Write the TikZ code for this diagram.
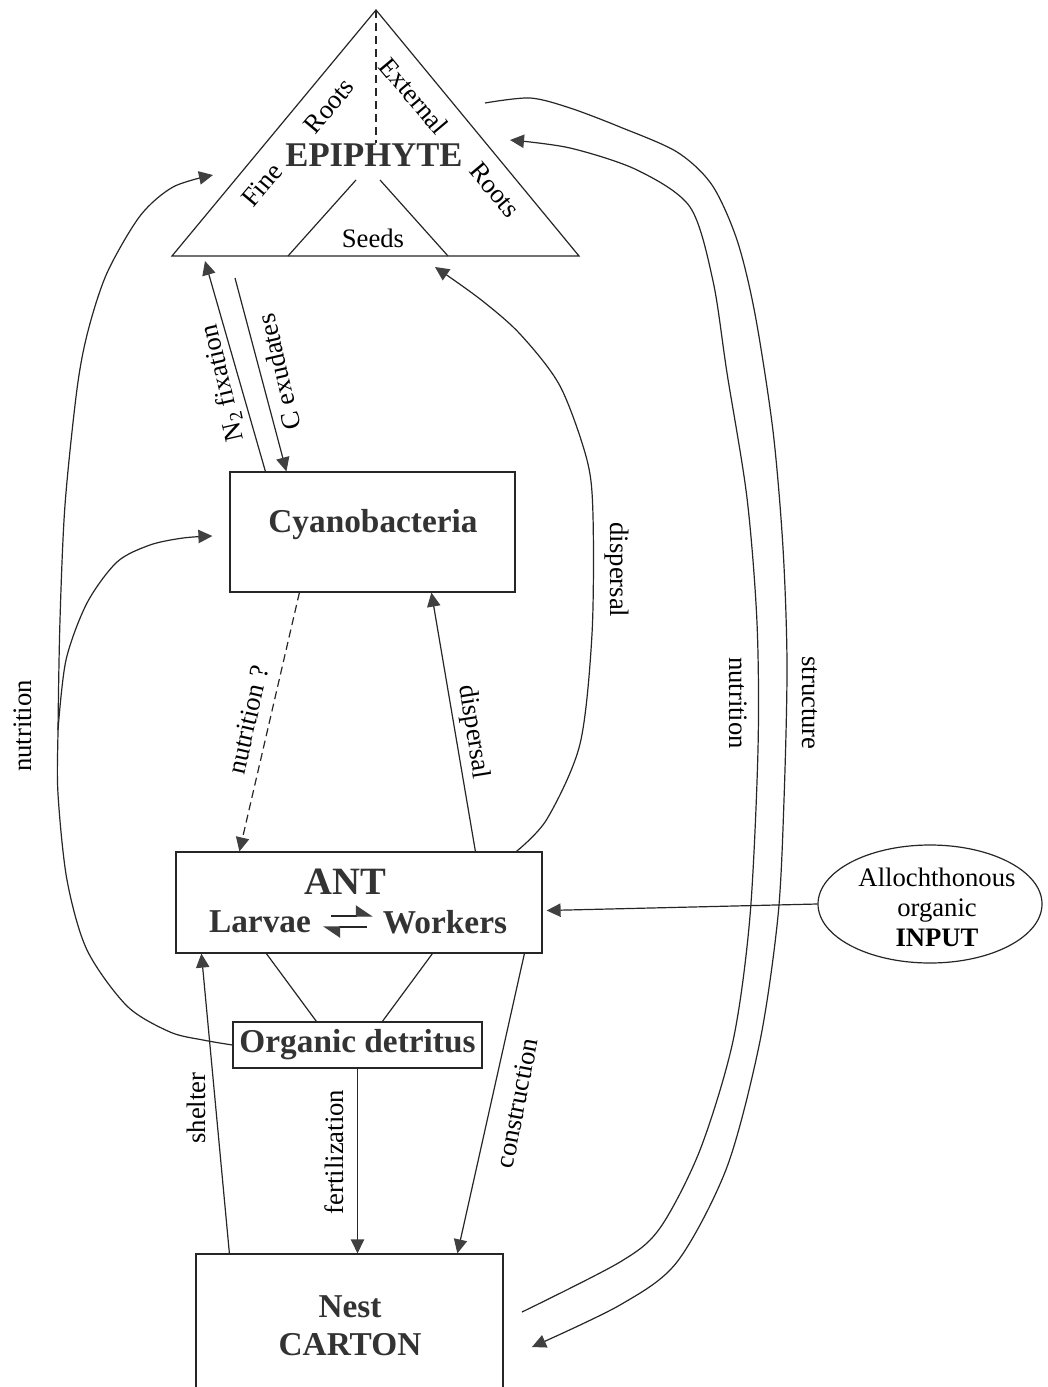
\documentclass[tikz,border=0pt]{standalone}
\usepackage{fontspec}
\setmainfont{Liberation Serif}
\usetikzlibrary{arrows.meta,calc,shapes.geometric}
\begin{document}
\begin{tikzpicture}[x=0.75pt,y=-0.75pt,
  conn/.style={line width=0.9pt,draw=black!85},
  arr/.style={conn,-{Triangle[length=10.5pt,width=10pt,color=black!75]}},
  harp/.style={conn,-{Triangle[harpoon,length=12pt,width=16pt,color=black!75]}},
  box/.style={draw=black!85,line width=0.9pt,inner sep=0pt,rectangle},
  lbl/.style={font=\fontsize{20}{24}\selectfont,inner sep=0pt},
  bld/.style={font=\fontsize{25}{28.5}\selectfont\bfseries,text=black!80,inner sep=0pt,align=center}
]
\useasboundingbox (0,0) rectangle (1048,1387);
\fill[white] (0,0) rectangle (1048,1387);
\clip (0,0) rectangle (1048,1387);

% EPIPHYTE triangle
\coordinate (apex) at (376,10);
\coordinate (tbl) at (172,256);
\coordinate (tbr) at (579,256);
\coordinate (dashend) at (376,143);
\coordinate (sdl1) at (356,180);
\coordinate (sdl2) at (288,256);
\coordinate (sdr1) at (380,180);
\coordinate (sdr2) at (448,256);
\draw[conn] (apex) -- (tbl) -- (tbr) -- cycle;
\draw[conn,dash pattern=on 6pt off 3.75pt] (apex) -- (dashend);
\draw[conn] (sdl1) -- (sdl2);
\draw[conn] (sdr1) -- (sdr2);
\node[bld,font=\fontsize{26}{30}\selectfont\bfseries] (epi) at (374,155) {EPIPHYTE};
\node[lbl,rotate=50] (fine) at (262,185) {Fine};
\node[lbl,rotate=50] (roots1) at (329,106) {Roots};
\node[lbl,rotate=-50] (ext) at (414,96) {External};
\node[lbl,rotate=-50] (roots2) at (495,190) {Roots};
\node[lbl] (seeds) at (373,238) {Seeds};

% boxes
\node[box,minimum width=213.75pt,minimum height=90pt] (cyan) at (372.5,532) {};
\node[bld] (cyantxt) at (373,525) {Cyanobacteria};

\node[box,minimum width=274.5pt,minimum height=75.75pt] (ant) at (359,902.5) {};
\node[bld,font=\fontsize{29}{32}\selectfont\bfseries] (anttxt) at (345,882) {ANT};
\node[bld] (larvae) at (260,922) {Larvae};
\node[bld] (workers) at (445,922) {Workers};
\draw[harp] ($(larvae.east)+(20,-6)$) -- ($(workers.west)+(-10,-6)$);
\draw[harp] ($(workers.west)+(-16,5)$) -- ($(larvae.east)+(12,5)$);

\node[box,bld,minimum width=186.75pt,minimum height=34.5pt] (det) at (357.5,1045) {Organic detritus};

\node[box,minimum width=230.25pt,minimum height=120pt] (nest) at (349.5,1334) {};
\node[bld] (nesttxt) at (350,1326) {Nest\\CARTON};

\node[draw=black!85,line width=0.9pt,ellipse,minimum width=168pt,minimum height=88.5pt,inner sep=0pt] (input) at (930,904) {};
\node[lbl,align=center,font=\fontsize{20}{22.5}\selectfont] (inputtxt) at (937,907) {Allochthonous\\organic\\\textbf{INPUT}};

% cyanobacteria <-> epiphyte
\coordinate (n2tip) at (205,261);
\coordinate (cexs) at (235,278);
\draw[arr] ($(cyan.north west)+(36,0)$) -- (n2tip);
\draw[arr] (cexs) -- ($(cyan.north west)+(57,0)$);
\node[lbl,rotate=103] (n2lbl) at (223,383) {N\textsubscript{2} fixation};
\node[lbl,rotate=103] (cexlbl) at (279,372) {C exudates};

% cyanobacteria <-> ant
\draw[arr,dash pattern=on 6pt off 3.5pt] ($(cyan.south west)+(70,0)$) -- ($(ant.north west)+(64,0)$);
\node[lbl,rotate=77] (nq) at (248,720) {nutrition ?};
\draw[arr] ($(ant.north west)+(300,0)$) -- ($(cyan.south west)+(202,0)$);
\node[lbl,rotate=-81] (disp1) at (473,732) {dispersal};

% ant -> epiphyte (dispersal)
\coordinate (antD2) at ($(ant.north west)+(341,0)$);
\coordinate (dispTip) at (435,267);
\draw[arr] plot[smooth] coordinates {(antD2) (547,819) (580,744) (592,634) (593,516) (587,460) (560,386) (520,334) (480,299) (dispTip)};
\node[lbl,rotate=-90] (disp2) at (617,570) {dispersal};

% ant - detritus
\draw[conn] ($(ant.south west)+(91,0)$) -- ($(det.north west)+(84,0)$);
\draw[conn] ($(ant.south west)+(257,0)$) -- ($(det.north west)+(150,0)$);

% nest links
\draw[arr] ($(nest.north west)+(34,0)$) -- ($(ant.south west)+(26,0)$);
\node[lbl,rotate=90] (shel) at (196,1108) {shelter};
\draw[arr] (det.south) -- (det.south |- nest.north);
\node[lbl,rotate=90] (fert) at (334,1152) {fertilization};
\draw[arr] ($(ant.south west)+(349,0)$) -- ($(nest.north west)+(262,0)$);
\node[lbl,rotate=79] (cons) at (517,1103) {construction};

% input
\draw[arr] (input.west) -- ($(ant.east)+(4,8)$);

% left nutrition curves
\coordinate (junc) at (58,730);
\coordinate (epiL) at (213,175);
\coordinate (cyL) at ($(cyan.west)+(-17,4)$);
\draw[arr] plot[smooth] coordinates {(det.west) (203,1040) (170,1032) (127,1006) (87,950) (67,880) (58,794) (junc) (60,620) (65,505) (77,389) (88,331) (107,273) (140,216) (173,187) (epiL)};
\draw[arr] plot[smooth] coordinates {(junc) (66,660) (87,603) (117,562) (150,545) (183,538) (cyL)};
\node[lbl,rotate=90] (nutL) at (23,726) {nutrition};

% right big curves
\coordinate (strS) at (485,103);
\coordinate (strE) at (532,1347);
\draw[arr] plot[smooth] coordinates {(strS) (530,98) (570,108) (620,127) (677,152) (712,185) (737,240) (755,314) (773,431) (783,548) (787,665) (784,800) (778,916) (760,1041) (727,1167) (677,1262) (620,1305) (strE)};
\coordinate (nutS) at (522,1312);
\coordinate (nutE) at (510,140);
\draw[arr] plot[smooth] coordinates {(nutS) (620,1262) (660,1228) (700,1150) (733,1041) (750,916) (758,749) (757,623) (747,498) (727,373) (713,281) (690,207) (637,170) (570,148) (nutE)};
\node[lbl,rotate=-90] (nutR) at (738,703) {nutrition};
\node[lbl,rotate=-90] (strlbl) at (810,703) {structure};
\end{tikzpicture}
\end{document}
